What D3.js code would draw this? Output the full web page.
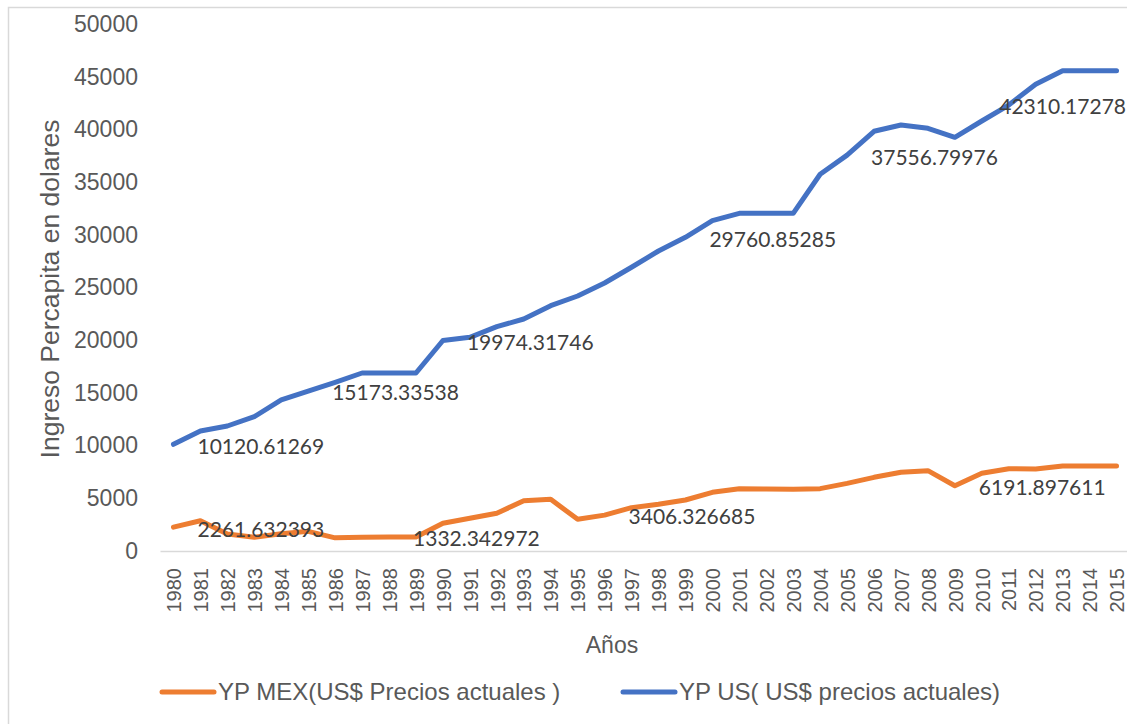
<!DOCTYPE html>
<html>
<head>
<meta charset="utf-8">
<script src="https://cdn.jsdelivr.net/npm/d3@7"></script>
<style>
  body { margin: 0; background: #fff; }
  svg { display: block; }
</style>
</head>
<body>
<div id="chart"></div>
<script>
'use strict';

// Years on the category axis
var YEARS = ['1980', '1981', '1982', '1983', '1984', '1985', '1986', '1987',
  '1988', '1989', '1990', '1991', '1992', '1993', '1994', '1995', '1996',
  '1997', '1998', '1999', '2000', '2001', '2002', '2003', '2004', '2005',
  '2006', '2007', '2008', '2009', '2010', '2011', '2012', '2013', '2014',
  '2015'];

// YP MEX (US$ current prices)
var MEX_VALUES = [2261.632393, 2875, 1613, 1297, 1645, 1866, 1250, 1310,
  1332.342972, 1330, 2626, 3100, 3575, 4775, 4903, 3006, 3406.326685,
  4110, 4428, 4839, 5566, 5914, 5890, 5870, 5914, 6420, 6990, 7465,
  7620, 6191.897611, 7370, 7810, 7780, 8065, 8065, 8065];

// YP US (US$ current prices)
var US_VALUES = [10120.61269, 11385, 11860, 12742, 14327, 15173.33538,
  16006, 16888, 16888, 16888, 19974.31746, 20275, 21282, 22012, 23274,
  24194, 25428, 26918, 28464, 29760.85285, 31339, 32040, 32040, 32040,
  35741, 37556.79976, 39820, 40419, 40103, 39250, 40798, 42310.17278,
  44280, 45572, 45572, 45572];

// Which points carry a data label
var MEX_LABEL_YEARS = ['1980', '1988', '1996', '2009'];
var US_LABEL_YEARS = ['1980', '1985', '1990', '1999', '2005', '2011'];

// Value axis ticks
var Y_TICKS = [0, 5000, 10000, 15000, 20000, 25000, 30000, 35000, 40000,
  45000, 50000];

var SERIES_NAMES = ['YP MEX(US$ Precios actuales )',
  'YP US( US$ precios actuales)'];

var WIDTH = 1127, HEIGHT = 724;
var COLORS = ['#ED7D31', '#4472C4'];

// Plot area (the right edge runs past the picture, as in the source)
var PLOT = { left: 160, right: 1130, top: 24, bottom: 551 };

var svg = d3.select('#chart').append('svg')
  .attr('width', WIDTH)
  .attr('height', HEIGHT);

// Chart frame
svg.append('rect')
  .attr('x', 8.5)
  .attr('y', 7.5)
  .attr('width', WIDTH + 20)
  .attr('height', HEIGHT + 20)
  .attr('fill', '#fff')
  .attr('stroke', '#d9d9d9')
  .attr('stroke-width', 1.5);

var x = d3.scalePoint()
  .domain(YEARS)
  .range([PLOT.left, PLOT.right])
  .padding(0.5);

var y = d3.scaleLinear()
  .domain([0, 50000])
  .range([PLOT.bottom, PLOT.top]);

// Value axis: labels only, no line, no ticks
var yAxis = svg.append('g')
  .attr('transform', 'translate(' + (PLOT.left - 22) + ',0)')
  .call(d3.axisLeft(y).tickValues(Y_TICKS).tickSize(0).tickPadding(0)
    .tickFormat(d3.format('d')));
yAxis.select('.domain').remove();
yAxis.selectAll('text')
  .attr('font-family', '"Liberation Sans", Arial, sans-serif')
  .attr('font-size', 23)
  .attr('fill', '#595959');

// Category axis
var xAxis = svg.append('g')
  .attr('transform', 'translate(0,' + PLOT.bottom + ')')
  .call(d3.axisBottom(x).tickSize(0).tickSizeOuter(0));
xAxis.select('.domain')
  .attr('stroke', '#d9d9d9')
  .attr('stroke-width', 1.5);
xAxis.selectAll('text')
  .attr('font-family', '"Liberation Sans", Arial, sans-serif')
  .attr('font-size', 20)
  .attr('fill', '#595959')
  .attr('text-anchor', 'end')
  .attr('transform', 'rotate(-90)')
  .attr('x', -17)
  .attr('y', 0)
  .attr('dy', '0.36em');

// Lines
var line = d3.line()
  .x(function(d, i) { return x(YEARS[i]); })
  .y(function(d) { return y(d); });

[MEX_VALUES, US_VALUES].forEach(function(values, s) {
  svg.append('path')
    .datum(values)
    .attr('d', line)
    .attr('fill', 'none')
    .attr('stroke', COLORS[s])
    .attr('stroke-width', 5)
    .attr('stroke-linejoin', 'round')
    .attr('stroke-linecap', 'round');
});

// Data labels, placed to the right of their point; a label that would
// run past the chart edge is pushed back inside, like Excel does.
function addLabels(values, years) {
  years.forEach(function(yr) {
    var v = values[YEARS.indexOf(yr)];
    var t = svg.append('text')
      .attr('x', x(yr) + 24)
      .attr('y', y(v) + 2)
      .attr('dy', '0.35em')
      .attr('font-family', 'Lato, "Open Sans", sans-serif')
      .attr('font-size', 21)
      .attr('fill', '#404040')
      .text(String(v));
    var w = t.node().getComputedTextLength();
    if (x(yr) + 24 + w > WIDTH - 1) {
      t.attr('x', WIDTH - 1 - w);
    }
  });
}
addLabels(MEX_VALUES, MEX_LABEL_YEARS);
addLabels(US_VALUES, US_LABEL_YEARS);

// Axis titles
svg.append('text')
  .attr('transform', 'translate(59,289) rotate(-90)')
  .attr('text-anchor', 'middle')
  .attr('font-family', '"Liberation Sans", Arial, sans-serif')
  .attr('font-size', 26.5)
  .attr('fill', '#595959')
  .text('Ingreso Percapita en dolares');

svg.append('text')
  .attr('x', 612)
  .attr('y', 653)
  .attr('text-anchor', 'middle')
  .attr('font-family', '"Liberation Sans", Arial, sans-serif')
  .attr('font-size', 23)
  .attr('fill', '#595959')
  .text('Años');

// Legend
var LEGEND_X = [160, 621];
SERIES_NAMES.forEach(function(name, s) {
  var g = svg.append('g')
    .attr('transform', 'translate(' + LEGEND_X[s] + ',692)');
  g.append('line')
    .attr('x1', 2).attr('x2', 54)
    .attr('y1', 0).attr('y2', 0)
    .attr('stroke', COLORS[s])
    .attr('stroke-width', 5)
    .attr('stroke-linecap', 'round');
  g.append('text')
    .attr('x', 58)
    .attr('dy', '0.35em')
    .attr('font-family', '"Liberation Sans", Arial, sans-serif')
    .attr('font-size', 24)
    .attr('fill', '#595959')
    .text(name);
});
</script>
</body>
</html>
